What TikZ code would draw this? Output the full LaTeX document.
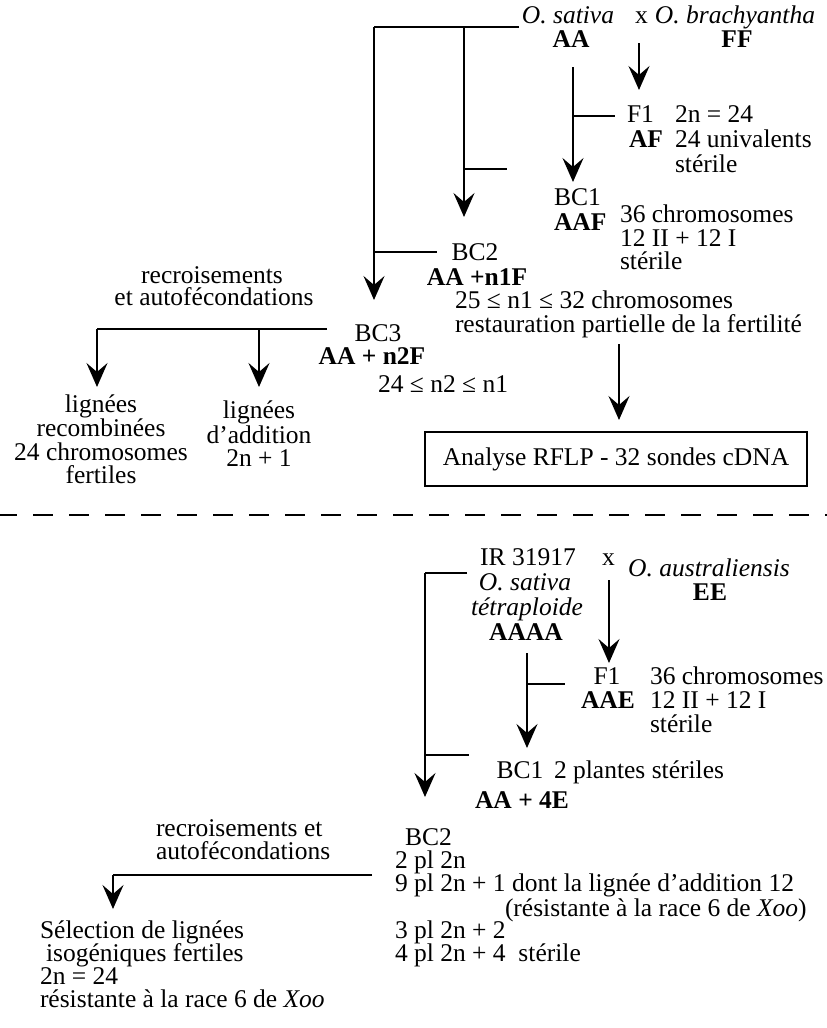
\documentclass[tikz,border=0pt]{standalone}
\usepackage{fontspec}
\setmainfont{Liberation Serif}
\usetikzlibrary{arrows.meta}
\begin{document}
\begin{tikzpicture}[x=1bp,y=-1bp,
  every node/.style={inner sep=0pt,outer sep=0pt,font=\fontsize{25.6}{24}\selectfont},
  lw/.style={anchor=base west},
  lc/.style={anchor=base},
  conn/.style={line width=2bp},
  arr/.style={conn,-{Stealth[length=24bp,width=21bp,inset=9bp]}},
  box/.style={draw,line width=2bp,minimum width=382bp,minimum height=54bp},
  sep/.style={line width=2bp,dash pattern=on 20bp off 16bp}
]
\useasboundingbox (0,0) rectangle (827,1028);

% ---------- top cross ----------
\node[lc] (osat) at (568,23) {\itshape O. sativa};
\node[lw] (x1) at (635,23) {x};
\node[lc] (obra) at (735,23) {\itshape O. brachyantha};
\node[lc] (AA) at (571,47) {\bfseries AA};
\node[lc] (FF) at (737,47) {\bfseries FF};
\node[lw] (F1) at (627,122) {F1};
\node[lw] (F1a) at (675,122) {2n = 24};
\node[lw] (AF) at (629,147) {\bfseries AF};
\node[lw] (F1b) at (675,147) {24 univalents};
\node[lw] (F1c) at (675,172) {stérile};
\node[lw] (BC1) at (554,205) {BC1};
\node[lw] (AAF) at (554,230) {\bfseries AAF};
\node[lw] (BC1a) at (620,222) {36 chromosomes};
\node[lw] (BC1b) at (620,246) {12 II + 12 I};
\node[lw] (BC1c) at (620,269) {stérile};
\node[lc] (BC2) at (475,260) {BC2};
\node[lc] (AAn1F) at (477,285) {\bfseries AA +n1F};
\node[lw] (n1a) at (455,308) {25 ≤ n1 ≤ 32 chromosomes};
\node[lw] (n1b) at (455,332) {restauration partielle de la fertilité};
\node[lc] (rec1) at (212,283) {recroisements};
\node[lc] (rec2) at (214,305) {et autofécondations};
\node[lc] (BC3) at (378,341) {BC3};
\node[lc] (AAn2F) at (372,364) {\bfseries AA + n2F};
\node[lw] (n2) at (378,392) {24 ≤ n2 ≤ n1};
\node[lc] (lr1) at (101,412) {lignées};
\node[lc] (lr2) at (101,436) {recombinées};
\node[lc] (lr3) at (101,460) {24 chromosomes};
\node[lc] (lr4) at (101,483) {fertiles};
\node[lc] (la1) at (259,418) {lignées};
\node[lc] (la2) at (259,443) {d'addition};
\node[lc] (la3) at (259,466) {2n + 1};
\node[box] (rflp) at (616,459) {Analyse RFLP - 32 sondes cDNA};

\coordinate (a1) at (519,27);
\coordinate (a2) at (374,27);
\coordinate (a3) at (374,300);
\coordinate (a4) at (464,27);
\coordinate (a5) at (464,217);
\coordinate (a6) at (464,169);
\coordinate (a7) at (507,169);
\coordinate (a8) at (374,252);
\coordinate (a9) at (437,252);
\coordinate (a10) at (573,67);
\coordinate (a11) at (573,182);
\coordinate (a12) at (573,116);
\coordinate (a13) at (615,116);
\coordinate (a14) at (639,43);
\coordinate (a15) at (639,90);
\coordinate (b1) at (327,329);
\coordinate (b0) at (97,329);
\coordinate (b0e) at (97,387);
\coordinate (b2) at (259,329);
\coordinate (b2e) at (259,387);
\coordinate (c1) at (619,344);
\coordinate (c2) at (619,420);

\draw[conn] (a1) -- (a2);
\draw[arr] (a2) -- (a3);
\draw[arr] (a4) -- (a5);
\draw[conn] (a6) -- (a7);
\draw[conn] (a8) -- (a9);
\draw[arr] (a10) -- (a11);
\draw[conn] (a12) -- (a13);
\draw[arr] (a14) -- (a15);
\draw[conn] (b1) -- (b0);
\draw[arr] (b0) -- (b0e);
\draw[arr] (b2) -- (b2e);
\draw[arr] (c1) -- (c2);

% ---------- separator ----------
\coordinate (d1) at (-3,515);
\coordinate (d2) at (830,515);
\draw[sep] (d1) -- (d2);

% ---------- bottom cross ----------
\node[lc] (ir) at (528,565) {IR 31917};
\node[lw] (x2) at (602,565) {x};
\node[lc] (oaus) at (709,576) {\itshape O. australiensis};
\node[lc] (EE) at (710,600) {\bfseries EE};
\node[lc] (osat2) at (525,590) {\itshape O. sativa};
\node[lc] (tetra) at (527,615) {\itshape tétraploide};
\node[lc] (AAAA) at (526,640) {\bfseries AAAA};
\node[lc] (F1d) at (607,684) {F1};
\node[lc] (AAE) at (608,708) {\bfseries AAE};
\node[lw] (F1e) at (650,684) {36 chromosomes};
\node[lw] (F1f) at (650,708) {12 II + 12 I};
\node[lw] (F1g) at (650,732) {stérile};
\node[lc] (BC1d) at (520,778) {BC1};
\node[lw] (pl) at (554,778) {2 plantes stériles};
\node[lc] (AA4E) at (522,808) {\bfseries AA + 4E};
\node[lw] (BC2d) at (405,845) {BC2};
\node[lw] (rec3) at (156,836) {recroisements et};
\node[lw] (rec4) at (156,859) {autofécondations};
\node[lw] (p1) at (395,868) {2 pl 2n};
\node[lw] (p2) at (395,891) {9 pl 2n + 1 dont la lignée d'addition 12};
\node[lw] (p3) at (505,916) {(résistante à la race 6 de \textit{Xoo})};
\node[lw] (p4) at (395,938) {3 pl 2n + 2};
\node[lw] (p5) at (395,961) {4 pl 2n + 4\ \ stérile};
\node[lw] (s1) at (40,938) {Sélection de lignées};
\node[lw] (s2) at (46,961) {isogéniques fertiles};
\node[lw] (s3) at (40,984) {2n = 24};
\node[lw] (s4) at (40,1007) {résistante à la race 6 de \textit{Xoo}};

\coordinate (e1) at (467,573);
\coordinate (e2) at (425,573);
\coordinate (e3) at (425,797);
\coordinate (e4) at (609,580);
\coordinate (e5) at (609,663);
\coordinate (e6) at (527,653);
\coordinate (e7) at (527,748);
\coordinate (e8) at (527,684);
\coordinate (e9) at (565,684);
\coordinate (e10) at (425,755);
\coordinate (e11) at (469,755);
\coordinate (f1) at (372,875);
\coordinate (f2) at (113,875);
\coordinate (f3) at (113,909);

\draw[conn] (e1) -- (e2);
\draw[arr] (e2) -- (e3);
\draw[arr] (e4) -- (e5);
\draw[arr] (e6) -- (e7);
\draw[conn] (e8) -- (e9);
\draw[conn] (e10) -- (e11);
\draw[conn] (f1) -- (f2);
\draw[arr] (f2) -- (f3);
\end{tikzpicture}
\end{document}
